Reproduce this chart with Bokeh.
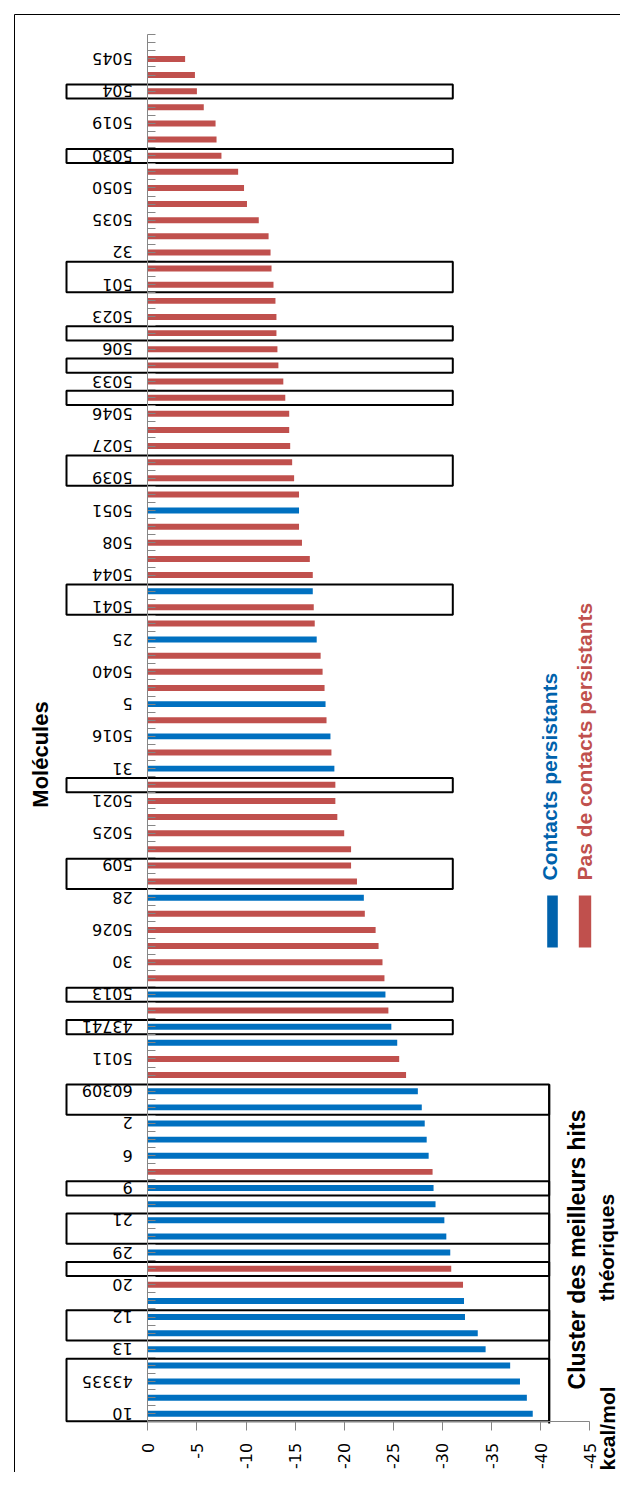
import math
from bokeh.plotting import figure
from bokeh.models import Range1d, FixedTicker, Label
from bokeh.embed import file_html
from bokeh.resources import INLINE
from bokeh.core.properties import value

# ---------------- data (top of chart first) ----------------
labels = ["5045", "", "504", "", "5019", "", "5030", "", "5050", "", "5035", "", "32", "",
          "501", "", "5023", "", "506", "", "5033", "", "5046", "", "5027", "", "5039", "",
          "5051", "", "508", "", "5044", "", "5041", "", "25", "", "5040", "", "5", "",
          "5016", "", "31", "", "5021", "", "5025", "", "509", "", "28", "", "5026", "",
          "30", "", "5013", "", "43741", "", "5011", "", "60309", "", "2", "", "6", "",
          "9", "", "21", "", "29", "", "20", "", "12", "", "13", "", "43335", "", "10"]

energies = [-3.8, -4.8, -5.0, -5.7, -6.9, -7.0, -7.5, -9.2, -9.8, -10.1, -11.3, -12.3, -12.5, -12.6,
            -12.8, -13.0, -13.1, -13.1, -13.2, -13.3, -13.8, -14.0, -14.4, -14.4, -14.5, -14.7, -14.9,
            -15.4, -15.4, -15.4,
            -15.7, -16.5, -16.8, -16.8, -16.9, -17.0, -17.2, -17.6, -17.8, -18.0, -18.1, -18.2, -18.6,
            -18.7, -19.0,
            -19.1, -19.1, -19.3, -20.0, -20.7, -20.7, -21.3,
            -22.0, -22.1, -23.2, -23.5, -23.9, -24.1, -24.2, -24.5, -24.8, -25.4, -25.6, -26.3,
            -27.5, -27.9, -28.2, -28.4, -28.6, -29.0, -29.1, -29.3, -30.2, -30.4, -30.8, -30.9,
            -32.1, -32.2, -32.3, -33.6, -34.4, -36.9, -37.9, -38.6, -39.2]

# 1 = "Contacts persistants", 0 = "Pas de contacts persistants"
persistent = [0, 0, 0, 0, 0, 0, 0, 0, 0, 0, 0, 0, 0, 0,
              0, 0, 0, 0, 0, 0, 0, 0, 0, 0, 0, 0, 0, 0, 1, 0,
              0, 0, 0, 1, 0, 0, 1, 0, 0, 0, 1, 0, 1, 0, 1,
              0, 0, 0, 0, 0, 0, 0,
              1, 0, 0, 0, 0, 0, 1, 0, 1, 1, 0, 0,
              1, 1, 1, 1, 1, 0, 1, 1, 1, 1, 1, 0,
              0, 1, 1, 1, 1, 1, 1, 1, 1]

series_names = ["Pas de contacts persistants", "Contacts persistants"]
value_ticks = [0, -5, -10, -15, -20, -25, -30, -35, -40, -45]
value_tick_labels = ["0", "-5", "-10", "-15", "-20", "-25", "-30", "-35", "-40", "-45"]

# highlighted groups (1-based bar index from the top)
boxed_groups = [(3, 3), (7, 7), (14, 15), (18, 18), (20, 20), (22, 22), (26, 27),
                (34, 35), (46, 46), (51, 52), (59, 59), (61, 61)]
cluster_groups = [(65, 66), (71, 71), (73, 74), (76, 76), (79, 80), (82, 85)]

# ---------------- layout helpers ----------------
N = len(labels)
NCAT = N + 1                     # one empty category at the top
PXU = 9.82                       # px per kcal/mol
PYC = 16.13                      # px per category
ZERO_X = 147.3                   # px of value 0
BASE_Y = 1421.4                  # px of the bottom category boundary
W, H = 620, 1472


def xv(px):
    return -(px - ZERO_X) / PXU


def yv(py):
    return 0.5 + (BASE_Y - py) / PYC


def pos(i_top):                  # 1-based index from top -> y coordinate
    return N + 1 - i_top


BLUE = "#0070C0"
RED = "#C0504D"
LEG_BLUE = "#0062AC"
AXIS_GREY = "#868686"
AXIS_FONT = "DejaVu Sans"
TXT_FONT = "Liberation Sans"

p = figure(width=W, height=H, x_range=Range1d(xv(0), xv(W)),
           y_range=Range1d(yv(H), yv(0)),
           output_backend="svg", toolbar_location=None, min_border=0)
p.outline_line_color = None
p.xgrid.visible = False
p.ygrid.visible = False
p.background_fill_color = "white"
p.border_fill_color = "white"

ys = [pos(i + 1) for i in range(N)]
cols = [BLUE if s == 1 else RED for s in persistent]
p.hbar(y=ys, left=0, right=energies, height=0.37, fill_color=cols, line_color=None)

# boxes around highlighted molecules
for (a, b) in boxed_groups:
    p.quad(left=xv(66), right=xv(452.3), top=pos(a) + 0.42, bottom=pos(b) - 0.46,
           fill_color=None, line_color="black", line_width=2)
for (a, b) in cluster_groups:
    p.quad(left=xv(66), right=xv(548.7), top=pos(a) + 0.42, bottom=pos(b) - 0.46,
           fill_color=None, line_color="black", line_width=2)
p.segment(x0=xv(548.7), x1=xv(548.7), y0=pos(cluster_groups[0][0]) + 0.42, y1=0.4,
          line_color="black", line_width=2)

# outer border
p.segment(x0=[xv(14), xv(14)], x1=[xv(640), xv(14)], y0=[yv(14), yv(14)], y1=[yv(14), yv(1500)],
          line_color="black", line_width=1)

# ---------------- axes ----------------
ya = p.yaxis[0]
ya.fixed_location = 0
ya.bounds = (0.5, NCAT + 0.5)
ya.ticker = FixedTicker(ticks=[], minor_ticks=[k * 0.5 + 0.5 for k in range(2 * NCAT + 1)])
ya.minor_tick_in = 8
ya.minor_tick_out = 0
ya.major_tick_in = 8
ya.major_tick_out = 0
ya.axis_line_color = AXIS_GREY
ya.major_tick_line_color = AXIS_GREY
ya.minor_tick_line_color = AXIS_GREY

# category labels (upside down, as in the reference)
lab_y = [pos(i + 1) for i in range(N) if labels[i]]
lab_t = [labels[i] for i in range(N) if labels[i]]
p.text(x=0, y=lab_y, text=lab_t, x_offset=-15, angle=math.pi, text_align="left",
       text_baseline="middle", text_font=value(AXIS_FONT), text_font_size="16px",
       text_color="black")

xa = p.xaxis[0]
xa.fixed_location = 0.5
xa.bounds = (-45, 0)
xa.ticker = FixedTicker(ticks=value_ticks)
xa.major_label_overrides = {float(v): "" for v in value_ticks}
xa.major_tick_in = 0
xa.major_tick_out = 9
xa.minor_tick_line_color = None
xa.axis_line_color = AXIS_GREY
xa.major_tick_line_color = AXIS_GREY

# value tick labels (rotated, reading upwards)
p.text(x=value_ticks, y=0.5, text=value_tick_labels, y_offset=21, angle=math.pi / 2,
       text_align="right", text_baseline="middle", text_font=value(AXIS_FONT),
       text_font_size="16px", text_color="black")

# ---------------- texts ----------------
p.add_layout(Label(x=xv(40), y=yv(754), text="Molécules", angle=math.pi / 2,
                   text_align="center", text_baseline="middle", text_font=TXT_FONT,
                   text_font_style="bold", text_font_size="22px", text_color="black"))

# legend
p.quad(left=xv(546.7), right=xv(557.3), bottom=yv(947), top=yv(895),
       fill_color=LEG_BLUE, line_color=None)
p.quad(left=xv(578.3), right=xv(590.7), bottom=yv(947), top=yv(895),
       fill_color=RED, line_color=None)
p.add_layout(Label(x=xv(549), y=yv(880), text=series_names[1], angle=math.pi / 2,
                   text_align="left", text_baseline="middle", text_font=TXT_FONT,
                   text_font_style="bold", text_font_size="21px", text_color=LEG_BLUE))
p.add_layout(Label(x=xv(584), y=yv(880), text=series_names[0], angle=math.pi / 2,
                   text_align="left", text_baseline="middle", text_font=TXT_FONT,
                   text_font_style="bold", text_font_size="21px", text_color=RED))

p.add_layout(Label(x=xv(576), y=yv(1249), text="Cluster des meilleurs hits", angle=math.pi / 2,
                   text_align="center", text_baseline="middle", text_font=TXT_FONT,
                   text_font_style="bold", text_font_size="23px", text_color="black"))
p.add_layout(Label(x=xv(606), y=yv(1247), text="théoriques", angle=math.pi / 2,
                   text_align="center", text_baseline="middle", text_font=TXT_FONT,
                   text_font_style="bold", text_font_size="21px", text_color="black"))
p.add_layout(Label(x=xv(607), y=yv(1470), text="kcal/mol", angle=math.pi / 2,
                   text_align="left", text_baseline="middle", text_font=TXT_FONT,
                   text_font_style="bold", text_font_size="21px", text_color="black"))

open("out.html", "w").write(file_html(p, INLINE))
